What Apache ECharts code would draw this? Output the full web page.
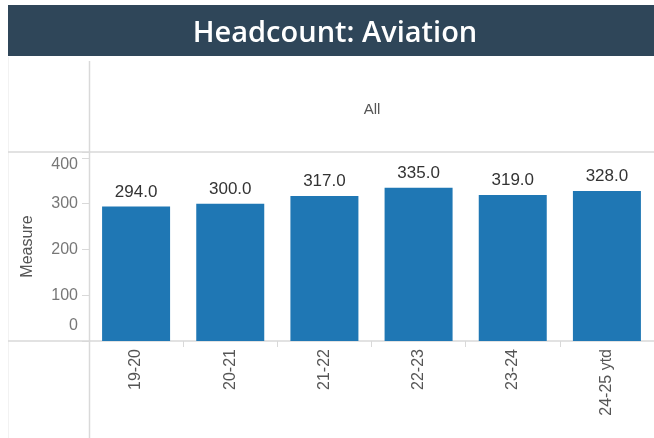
<!DOCTYPE html>
<html>
<head>
<meta charset="utf-8">
<script src="https://cdn.jsdelivr.net/npm/echarts@6/dist/echarts.min.js"></script>
<style>
	html, body { margin: 0; padding: 0; background: #fff; }
	#headcount { width: 654px; height: 438px; }
</style>
</head>
<body>
<div id="headcount"></div>
<script>
// data
var years = ['19-20', '20-21', '21-22', '22-23', '23-24', '24-25 ytd'];
var headcount = [294, 300, 317, 335, 319, 328];
var yTicks = [0, 100, 200, 300, 400];

var chart = echarts.init(document.getElementById('headcount'));
var lineColor = '#d9d9d9';

chart.setOption({
	animation: false,
	title: {
		text: 'Headcount: Aviation',
		left: 335,
		top: 19,
		textAlign: 'center',
		padding: 0,
		textStyle: {
			color: '#ffffff',
			fontFamily: 'Open Sans',
			fontSize: 29,
			fontWeight: 600
		},
		z: 10
	},
	graphic: [
		// header band
		{ type: 'rect', shape: { x: 8, y: 5, width: 646, height: 51 }, style: { fill: '#2f4659' }, z: 1 },
		// column header
		{ type: 'text', x: 372, y: 110, style: { text: 'All', fill: '#555', fontFamily: 'Liberation Sans', fontSize: 15, align: 'center', verticalAlign: 'middle' } },
		// pane borders
		{ type: 'line', shape: { x1: 8.5, y1: 57, x2: 8.5, y2: 438 }, style: { stroke: '#f2f2f2', lineWidth: 1 } },
		{ type: 'line', shape: { x1: 89.5, y1: 61, x2: 89.5, y2: 438 }, style: { stroke: lineColor, lineWidth: 1.5 } },
		{ type: 'line', shape: { x1: 8, y1: 152, x2: 654, y2: 152 }, style: { stroke: lineColor, lineWidth: 1.5 } },
		{ type: 'line', shape: { x1: 8, y1: 341, x2: 654, y2: 341 }, style: { stroke: lineColor, lineWidth: 1.5 } }
	],
	grid: {
		left: 89,
		top: 152,
		width: 572,
		height: 189
	},
	xAxis: {
		type: 'category',
		data: years,
		axisLine: { show: false },
		axisTick: { show: true, length: 6, lineStyle: { color: lineColor } },
		axisLabel: {
			rotate: 90,
			margin: 8,
			color: '#555',
			fontFamily: 'Liberation Sans',
			fontSize: 16
		}
	},
	yAxis: {
		type: 'value',
		min: 0,
		max: 413,
		interval: 100,
		name: 'Measure',
		nameLocation: 'middle',
		nameGap: 53,
		nameTextStyle: { color: '#555', fontFamily: 'Liberation Sans', fontSize: 16 },
		splitLine: { show: false },
		axisLine: { show: false },
		axisTick: { show: true, inside: false, length: 7, lineStyle: { color: lineColor } },
		axisLabel: {
			margin: 11,
			color: '#777',
			fontFamily: 'Liberation Sans',
			fontSize: 16,
			formatter: function (v) {
				if (yTicks.indexOf(v) < 0) return '';
				if (v === yTicks[yTicks.length - 1]) return '{top|' + v + '}';
				if (v === yTicks[0]) return '{bot|' + v + '}';
				return '' + v;
			},
			rich: {
				top: { color: '#777', fontFamily: 'Liberation Sans', fontSize: 16, padding: [14, 0, 0, 0] },
				bot: { color: '#777', fontFamily: 'Liberation Sans', fontSize: 16, padding: [0, 0, 30, 0] }
			}
		}
	},
	series: [
		{
			name: 'Measure',
			type: 'bar',
			data: headcount,
			barWidth: 68,
			itemStyle: { color: '#1f77b4' },
			label: {
				show: true,
				position: 'top',
				distance: 6,
				color: '#333',
				fontFamily: 'Liberation Sans',
				fontSize: 17,
				formatter: function (p) { return p.value.toFixed(1); }
			}
		}
	]
});
</script>
</body>
</html>
